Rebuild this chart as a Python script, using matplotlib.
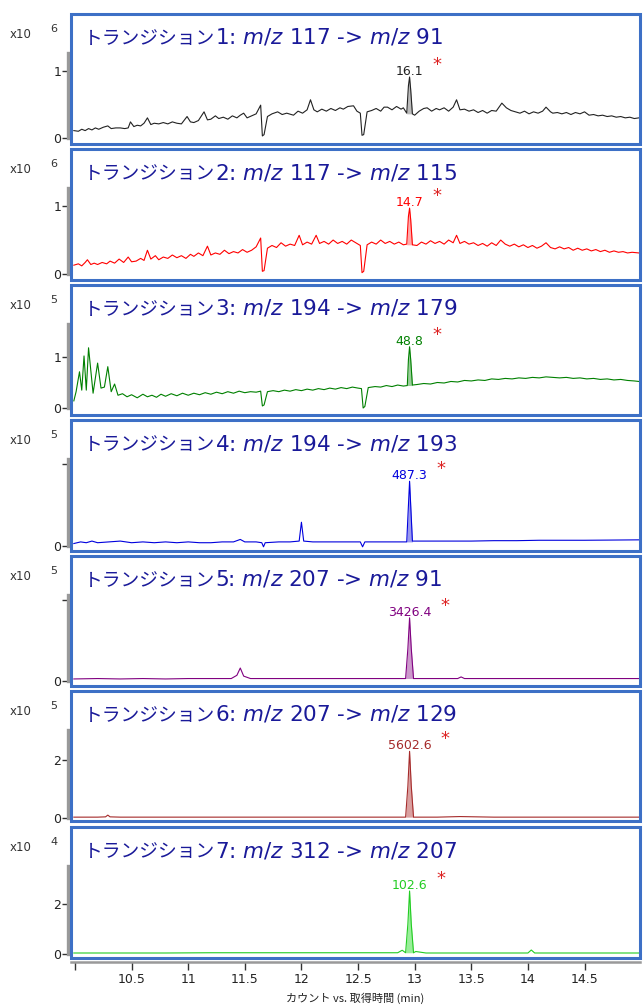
import numpy as np
import matplotlib.pyplot as plt
from matplotlib.patches import Rectangle

# ---- data (intensity in units of the panel multiplier) ----
t_1 = [9.99, 10.03, 10.06, 10.09, 10.12, 10.15, 10.18, 10.21, 10.25, 10.29, 10.32, 10.36, 10.40, 10.44,
       10.47, 10.49, 10.52, 10.55, 10.58, 10.61, 10.64, 10.67, 10.70, 10.74, 10.78, 10.82, 10.86, 10.90,
       10.94, 10.99, 11.02, 11.05, 11.09, 11.14, 11.17, 11.20, 11.24, 11.27, 11.31, 11.35, 11.39, 11.43,
       11.46, 11.49, 11.52, 11.56, 11.60, 11.64, 11.655, 11.67, 11.70, 11.74, 11.79, 11.83, 11.87, 11.93,
       11.97, 12.01, 12.05, 12.08, 12.11, 12.14, 12.18, 12.22, 12.26, 12.30, 12.34, 12.37, 12.41, 12.46,
       12.49, 12.52, 12.535, 12.55, 12.58, 12.62, 12.66, 12.70, 12.73, 12.76, 12.80, 12.84, 12.88, 12.90,
       12.93, 12.945, 12.955, 12.965, 12.98, 13.00, 13.04, 13.08, 13.11, 13.15, 13.19, 13.22, 13.26, 13.30,
       13.34, 13.37, 13.40, 13.44, 13.48, 13.52, 13.56, 13.60, 13.64, 13.68, 13.72, 13.77, 13.81, 13.85,
       13.89, 13.93, 13.97, 14.01, 14.05, 14.09, 14.13, 14.16, 14.20, 14.22, 14.26, 14.30, 14.34, 14.38,
       14.42, 14.46, 14.50, 14.54, 14.58, 14.62, 14.66, 14.70, 14.74, 14.78, 14.82, 14.86, 14.90, 14.94, 14.98]
v_1 = [0.11, 0.10, 0.13, 0.11, 0.14, 0.12, 0.15, 0.13, 0.16, 0.18, 0.14, 0.15, 0.15, 0.14,
       0.15, 0.24, 0.17, 0.19, 0.18, 0.22, 0.30, 0.20, 0.22, 0.21, 0.23, 0.21, 0.24, 0.22,
       0.21, 0.32, 0.24, 0.23, 0.26, 0.39, 0.27, 0.28, 0.33, 0.29, 0.31, 0.28, 0.33, 0.30,
       0.34, 0.37, 0.30, 0.33, 0.36, 0.49, 0.03, 0.05, 0.32, 0.36, 0.39, 0.35, 0.37, 0.34,
       0.40, 0.37, 0.42, 0.57, 0.42, 0.39, 0.43, 0.40, 0.44, 0.41, 0.45, 0.43, 0.47, 0.48,
       0.40, 0.37, 0.04, 0.05, 0.39, 0.41, 0.44, 0.40, 0.46, 0.46, 0.42, 0.47, 0.43, 0.45,
       0.37, 0.78, 0.91, 0.72, 0.36, 0.34, 0.40, 0.44, 0.45, 0.40, 0.44, 0.42, 0.45, 0.40,
       0.46, 0.57, 0.42, 0.43, 0.40, 0.42, 0.38, 0.41, 0.37, 0.41, 0.40, 0.52, 0.45, 0.41,
       0.39, 0.37, 0.40, 0.36, 0.39, 0.37, 0.40, 0.46, 0.39, 0.37, 0.38, 0.36, 0.38, 0.35,
       0.38, 0.36, 0.39, 0.34, 0.35, 0.33, 0.34, 0.32, 0.33, 0.31, 0.32, 0.30, 0.31, 0.29, 0.30]

t_2 = [9.99, 10.03, 10.06, 10.09, 10.11, 10.14, 10.17, 10.20, 10.24, 10.28, 10.31, 10.35, 10.39, 10.43,
       10.47, 10.50, 10.54, 10.58, 10.61, 10.64, 10.67, 10.71, 10.74, 10.78, 10.82, 10.86, 10.90, 10.94,
       10.98, 11.02, 11.05, 11.09, 11.13, 11.17, 11.20, 11.24, 11.28, 11.32, 11.36, 11.40, 11.44, 11.48,
       11.52, 11.56, 11.60, 11.64, 11.655, 11.67, 11.70, 11.74, 11.78, 11.82, 11.86, 11.90, 11.94, 11.98,
       12.01, 12.05, 12.09, 12.13, 12.16, 12.20, 12.24, 12.28, 12.32, 12.36, 12.40, 12.44, 12.48, 12.52,
       12.535, 12.55, 12.58, 12.62, 12.66, 12.70, 12.74, 12.78, 12.82, 12.86, 12.90, 12.93, 12.945, 12.955,
       12.965, 12.98, 13.02, 13.06, 13.10, 13.14, 13.18, 13.22, 13.26, 13.30, 13.34, 13.37, 13.40, 13.44,
       13.48, 13.52, 13.56, 13.60, 13.64, 13.68, 13.72, 13.76, 13.80, 13.84, 13.88, 13.92, 13.96, 14.00,
       14.04, 14.08, 14.12, 14.16, 14.20, 14.24, 14.28, 14.32, 14.36, 14.40, 14.44, 14.48, 14.52, 14.56,
       14.60, 14.64, 14.68, 14.72, 14.76, 14.80, 14.84, 14.88, 14.92, 14.98]
v_2 = [0.13, 0.15, 0.12, 0.17, 0.21, 0.14, 0.16, 0.14, 0.17, 0.15, 0.19, 0.16, 0.22, 0.17,
       0.25, 0.18, 0.19, 0.23, 0.20, 0.35, 0.22, 0.27, 0.21, 0.25, 0.23, 0.28, 0.24, 0.27,
       0.23, 0.29, 0.26, 0.31, 0.27, 0.41, 0.28, 0.31, 0.29, 0.35, 0.30, 0.33, 0.31, 0.36,
       0.32, 0.35, 0.40, 0.53, 0.04, 0.05, 0.38, 0.42, 0.39, 0.46, 0.41, 0.44, 0.42, 0.57,
       0.43, 0.47, 0.44, 0.57, 0.45, 0.48, 0.44, 0.50, 0.45, 0.48, 0.44, 0.50, 0.46, 0.42,
       0.02, 0.04, 0.43, 0.47, 0.44, 0.50, 0.45, 0.48, 0.44, 0.47, 0.43, 0.44, 0.85, 0.97,
       0.80, 0.43, 0.42, 0.47, 0.44, 0.49, 0.45, 0.48, 0.44, 0.50, 0.46, 0.57, 0.45, 0.48,
       0.44, 0.46, 0.42, 0.45, 0.41, 0.46, 0.42, 0.50, 0.44, 0.41, 0.44, 0.40, 0.43, 0.39,
       0.42, 0.38, 0.41, 0.46, 0.39, 0.37, 0.40, 0.37, 0.39, 0.35, 0.38, 0.35, 0.37, 0.34,
       0.36, 0.33, 0.35, 0.32, 0.34, 0.32, 0.33, 0.31, 0.32, 0.31]

t_3 = [9.99, 10.01, 10.04, 10.06, 10.08, 10.10, 10.12, 10.16, 10.20, 10.23, 10.26, 10.29, 10.32, 10.35,
       10.38, 10.42, 10.46, 10.50, 10.55, 10.60, 10.64, 10.68, 10.72, 10.76, 10.80, 10.85, 10.90, 10.95,
       11.00, 11.05, 11.10, 11.15, 11.20, 11.25, 11.30, 11.35, 11.40, 11.45, 11.50, 11.55, 11.60, 11.64,
       11.655, 11.67, 11.70, 11.75, 11.80, 11.85, 11.90, 11.95, 12.00, 12.05, 12.10, 12.15, 12.20, 12.25,
       12.30, 12.35, 12.40, 12.45, 12.50, 12.53, 12.545, 12.56, 12.59, 12.65, 12.70, 12.75, 12.80, 12.85,
       12.90, 12.935, 12.945, 12.955, 12.965, 12.98, 13.02, 13.08, 13.14, 13.20, 13.26, 13.32, 13.38, 13.44,
       13.50, 13.56, 13.62, 13.68, 13.74, 13.80, 13.86, 13.92, 13.98, 14.04, 14.10, 14.16, 14.22, 14.28,
       14.34, 14.40, 14.46, 14.52, 14.58, 14.64, 14.70, 14.76, 14.82, 14.88, 14.94, 14.98]
v_3 = [0.14, 0.32, 0.71, 0.35, 1.02, 0.35, 1.18, 0.29, 0.88, 0.39, 0.41, 0.81, 0.32, 0.47,
       0.25, 0.28, 0.22, 0.26, 0.20, 0.27, 0.22, 0.25, 0.21, 0.27, 0.23, 0.28, 0.24, 0.29,
       0.25, 0.29, 0.26, 0.30, 0.27, 0.31, 0.28, 0.32, 0.29, 0.33, 0.30, 0.32, 0.31, 0.33,
       0.04, 0.06, 0.32, 0.34, 0.32, 0.35, 0.33, 0.36, 0.34, 0.37, 0.35, 0.38, 0.36, 0.39,
       0.37, 0.40, 0.38, 0.41, 0.39, 0.38, 0.00, 0.03, 0.40, 0.42, 0.41, 0.44, 0.42, 0.45,
       0.43, 0.44, 0.95, 1.20, 0.95, 0.45, 0.46, 0.48, 0.47, 0.50, 0.49, 0.52, 0.51, 0.54,
       0.53, 0.55, 0.54, 0.57, 0.56, 0.58, 0.57, 0.59, 0.58, 0.60, 0.59, 0.61, 0.60, 0.59,
       0.60, 0.58, 0.59, 0.57, 0.58, 0.56, 0.57, 0.55, 0.56, 0.54, 0.53, 0.52]

t_4 = [9.99, 10.05, 10.10, 10.15, 10.20, 10.30, 10.40, 10.50, 10.60, 10.70, 10.80, 10.90, 11.00, 11.10,
       11.20, 11.30, 11.40, 11.46, 11.50, 11.60, 11.65, 11.665, 11.68, 11.80, 11.90, 11.98, 12.00, 12.02,
       12.10, 12.20, 12.30, 12.40, 12.52, 12.54, 12.56, 12.70, 12.85, 12.93, 12.94, 12.955, 12.97, 12.98,
       13.10, 13.30, 13.50, 13.70, 13.90, 14.10, 14.30, 14.50, 14.70, 14.98]
v_4 = [0.03, 0.05, 0.04, 0.06, 0.04, 0.05, 0.06, 0.04, 0.05, 0.04, 0.05, 0.04, 0.05, 0.04,
       0.04, 0.05, 0.05, 0.08, 0.05, 0.05, 0.04, -0.01, 0.04, 0.05, 0.05, 0.06, 0.29, 0.06,
       0.05, 0.05, 0.05, 0.05, 0.05, -0.01, 0.05, 0.05, 0.05, 0.05, 0.35, 0.79, 0.35, 0.06,
       0.06, 0.06, 0.06, 0.065, 0.065, 0.07, 0.07, 0.07, 0.072, 0.075]

t_5 = [9.99, 10.20, 10.40, 10.60, 10.80, 11.00, 11.20, 11.38, 11.43, 11.46, 11.49, 11.55, 11.80, 12.10,
       12.40, 12.70, 12.92, 12.94, 12.955, 12.97, 12.99, 13.20, 13.38, 13.41, 13.44, 13.70, 14.00, 14.30,
       14.60, 14.98]
v_5 = [0.025, 0.03, 0.025, 0.03, 0.025, 0.03, 0.03, 0.03, 0.07, 0.16, 0.06, 0.03, 0.03, 0.03,
       0.03, 0.03, 0.03, 0.40, 0.78, 0.40, 0.03, 0.03, 0.03, 0.05, 0.03, 0.03, 0.03, 0.03,
       0.03, 0.03]

t_6 = [9.99, 10.10, 10.20, 10.27, 10.29, 10.31, 10.40, 10.70, 11.00, 11.40, 11.80, 12.20, 12.60, 12.92,
       12.94, 12.955, 12.97, 12.99, 13.20, 13.40, 13.70, 14.00, 14.40, 14.98]
v_6 = [0.03, 0.03, 0.03, 0.04, 0.10, 0.04, 0.03, 0.03, 0.03, 0.03, 0.03, 0.03, 0.03, 0.03,
       1.10, 2.30, 1.10, 0.03, 0.03, 0.05, 0.03, 0.03, 0.03, 0.03]

t_7 = [9.99, 10.40, 10.80, 11.20, 11.60, 12.00, 12.40, 12.85, 12.89, 12.92, 12.94, 12.955, 12.97, 12.99,
       13.01, 13.10, 13.50, 14.00, 14.03, 14.06, 14.50, 14.98]
v_7 = [0.04, 0.04, 0.04, 0.05, 0.05, 0.05, 0.05, 0.05, 0.15, 0.05, 1.20, 2.52, 1.20, 0.05,
       0.10, 0.04, 0.04, 0.04, 0.16, 0.04, 0.04, 0.04]

times = [t_1, t_2, t_3, t_4, t_5, t_6, t_7]
values = [v_1, v_2, v_3, v_4, v_5, v_6, v_7]
transitions = ["1", "2", "3", "4", "5", "6", "7"]
precursors = ["117", "117", "194", "194", "207", "207", "312"]
products = ["91", "115", "179", "193", "91", "129", "207"]
exponents = [6, 6, 5, 5, 5, 5, 4]
areas = ["16.1", "14.7", "48.8", "487.3", "3426.4", "5602.6", "102.6"]
ytick_vals = [[0, 1], [0, 1], [0, 1], [0, 1], [0, 1], [0, 2], [0, 2]]
ytick_txt = [["0", "1"], ["0", "1"], ["0", "1"], ["0", ""], ["0", ""], ["0", "2"], ["0", "2"]]
ylims = [(-0.09, 1.85), (-0.088, 1.84), (-0.137, 2.41), (-0.061, 1.537),
         (-0.062, 1.543), (-0.103, 4.38), (-0.16, 5.08)]
xtick_vals = [10, 10.5, 11, 11.5, 12, 12.5, 13, 13.5, 14, 14.5]
xtick_txt = ["", "10.5", "11", "11.5", "12", "12.5", "13", "13.5", "14", "14.5"]
peak_window = (12.92, 12.99)

colors = ["#222222", "#ff0000", "#008000", "#0000dd", "#800080", "#a52a2a", "#22cc22"]
fills = ["#bbbbbb", "#ffaaaa", "#99cc99", "#9999ee", "#cc99cc", "#d9a0a0", "#99ee99"]

W, H = 643, 1007
fig = plt.figure(figsize=(W / 100, H / 100), dpi=100)
tops = [14, 149, 285, 420, 556, 691, 827]
bots = [144, 280, 415, 551, 686, 821, 958]
left_px, right_px = 71, 640
frame_col = "#3d70c6"
title_col = "#1a1a99"
xlim = (9.965, 14.99)

for i in range(7):
    ax = fig.add_axes([left_px / W, 1 - bots[i] / H, (right_px - left_px) / W, (bots[i] - tops[i]) / H])
    t = np.array(times[i])
    v = np.array(values[i])
    ax.plot(t, v, color=colors[i], lw=0.8)
    m = (t >= peak_window[0]) & (t <= peak_window[1])
    base = min(v[m][0], v[m][-1])
    ax.fill_between(t[m], v[m], base, color=fills[i], lw=0)
    ax.set_xlim(*xlim)
    ax.set_ylim(*ylims[i])
    ax.set_xticks([])
    for s in ["top", "right", "bottom"]:
        ax.spines[s].set_visible(False)
    lo, hi = ylims[i]
    ax.spines["left"].set_bounds(0, lo + 0.70 * (hi - lo))
    ax.spines["left"].set_position(("outward", 2))
    ax.spines["left"].set_color("#999999")
    ax.spines["left"].set_linewidth(2.4)
    ax.set_yticks(ytick_vals[i])
    ax.set_yticklabels(ytick_txt[i])
    ax.tick_params(axis="y", direction="out", length=4, width=1, color="#333333",
                   labelsize=9, labelcolor="#222222", pad=1)
    ax.add_patch(Rectangle((0, 0), 1, 1, transform=ax.transAxes, fill=False,
                           ec=frame_col, lw=2.2, clip_on=False, zorder=5))

    # multiplier
    ax.text(-0.107, 0.84, "x10", transform=ax.transAxes, fontsize=8.5, color="#333333", va="center")
    ax.text(-0.037, 0.885, str(exponents[i]), transform=ax.transAxes, fontsize=8, color="#333333", va="center")

    # title in two pieces
    kt = ax.text(0.022, 0.77, "トランジション", transform=ax.transAxes, fontsize=13.5,
                 family="Noto Sans CJK JP", color=title_col, va="baseline")
    fig.canvas.draw()
    bb = kt.get_window_extent()
    x2 = ax.transAxes.inverted().transform((bb.x1, bb.y0))[0]
    ax.text(x2, 0.77, transitions[i] + ": $\\it{m/z}$ " + precursors[i] + " -> $\\it{m/z}$ " + products[i],
            transform=ax.transAxes, fontsize=15.5, family="DejaVu Sans", color=title_col, va="baseline")

    # peak label and asterisk
    k = np.argmax(np.where(m, v, -np.inf))
    lab = ax.annotate(areas[i], xy=(t[k], v[k]), xytext=(0, -1), textcoords="offset pixels",
                      ha="center", va="bottom", fontsize=9, color=colors[i])
    ax.annotate("*", xy=(1, 1), xycoords=lab, xytext=(9, 0), textcoords="offset pixels",
                ha="left", va="center", fontsize=13, color="#dd2222")

# bottom x axis
axx = fig.add_axes([left_px / W, 1 - 962 / H, (right_px - left_px) / W, 0.0001])
axx.set_xlim(*xlim)
axx.set_yticks([])
for s in ["top", "right", "left"]:
    axx.spines[s].set_visible(False)
axx.spines["bottom"].set_color("#999999")
axx.spines["bottom"].set_linewidth(1.8)
axx.set_xticks(xtick_vals)
axx.set_xticklabels(xtick_txt)
axx.tick_params(axis="x", direction="out", length=6, width=1, color="#333333",
                labelsize=9, labelcolor="#222222", pad=2)
fig.text(355 / W, 1 - 998 / H, "カウント vs. 取得時間 (min)", ha="center", va="center",
         fontsize=8, color="#222222", family=["Noto Sans CJK JP", "DejaVu Sans"])

fig.savefig("out.png", dpi=100)
